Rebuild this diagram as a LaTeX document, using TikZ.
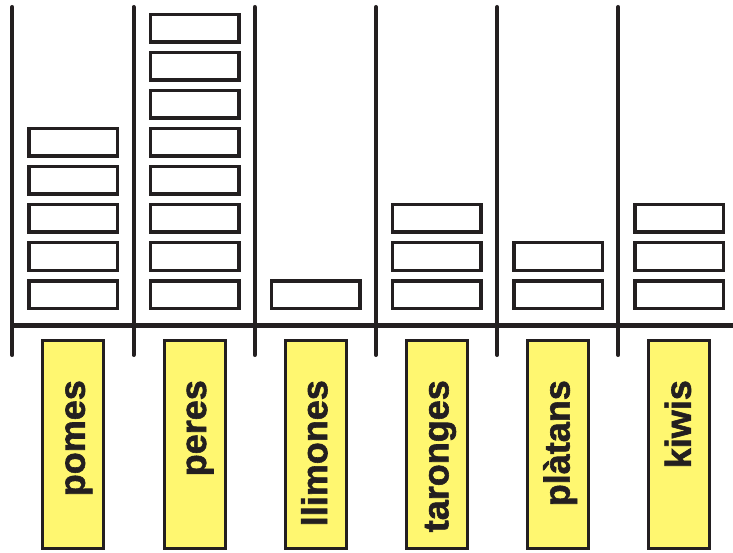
\documentclass[tikz,border=0pt]{standalone}
\usepackage{fontspec}
\setmainfont{Liberation Sans}
\newfontfamily\labfont[FakeBold=1.6]{Liberation Sans Bold}
\definecolor{ink}{RGB}{35,31,32}
\definecolor{labelyellow}{RGB}{255,247,112}
\begin{document}
\begin{tikzpicture}[x=1pt,y=-1pt,
  unitbox/.style={draw=ink,line width=3.5pt,fill=white,inner sep=0pt,
    minimum width=88.5pt,minimum height=27.5pt},
  labelbox/.style={draw=ink,line width=3pt,fill=labelyellow,inner sep=0pt,
    minimum width=61pt,minimum height=208pt},
  labeltext/.style={rotate=90,anchor=base east,inner sep=0pt,text=ink,
    font=\labfont\fontsize{36}{36}\selectfont},
  divider/.style={draw=ink,line width=4pt,line cap=round},
  axisline/.style={draw=ink,line width=5pt}]
\useasboundingbox (0,0) rectangle (733,553);
% divider positions
\foreach \i in {0,...,5}{
  \pgfmathsetmacro{\lx}{12.3+121.2*\i}
  \coordinate (dtop\i) at (\lx,7);
  \coordinate (dbot\i) at (\lx,355);
  \draw[divider] (dtop\i) -- (dbot\i);
}
\coordinate (axl) at (10,325);
\coordinate (axr) at (733,325);
\draw[axisline] (axl) -- (axr);
% columns: index / count / label
\foreach \i/\n/\lab in {0/5/pomes,1/8/peres,2/1/llimones,3/3/taronges,4/2/plàtans,5/3/kiwis}{
  \pgfmathsetmacro{\cx}{12.3+121.2*\i+61}
  \foreach \k in {1,...,\n}{
    \pgfmathsetmacro{\cy}{310-15.5-38*(\k-1)}
    \node[unitbox] (box\i-\k) at (\cx,\cy) {};
  }
  \node[labelbox] (lab\i) at (\cx,444.5) {};
  \node[labeltext] (txt\i) at (\cx+11.5,380) {\lab};
}
\end{tikzpicture}
\end{document}
